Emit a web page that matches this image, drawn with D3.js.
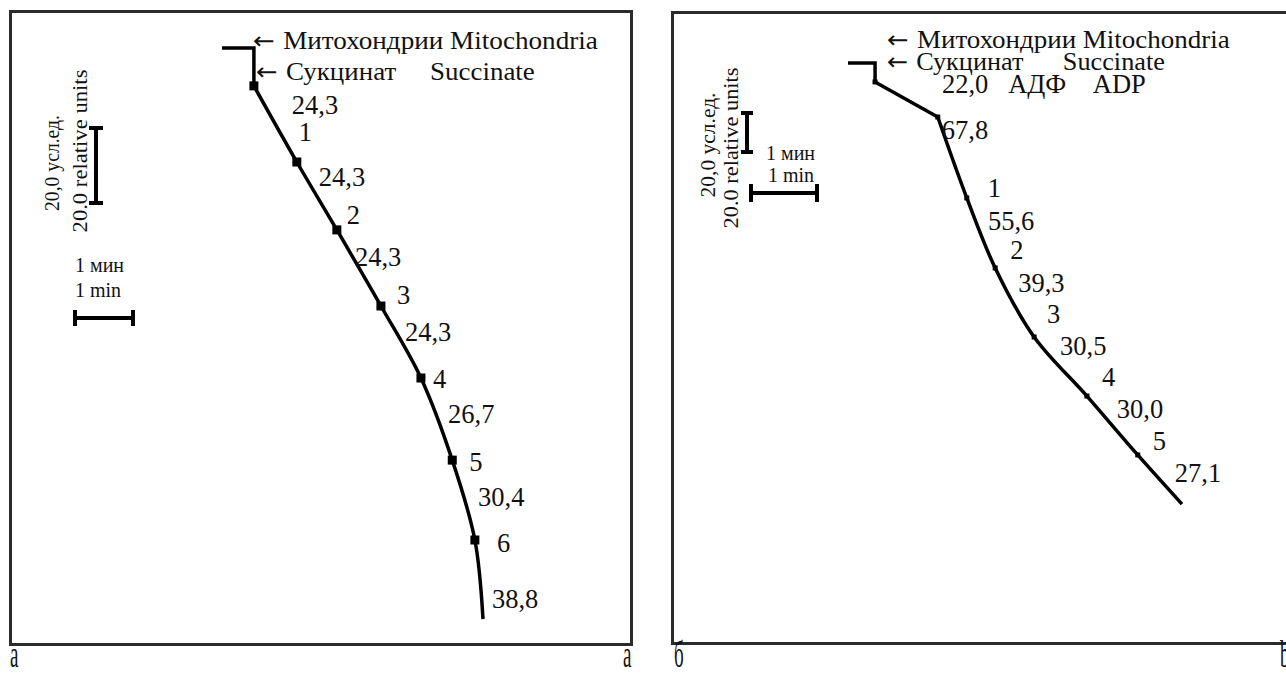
<!DOCTYPE html>
<html>
<head>
<meta charset="utf-8">
<script src="https://cdn.jsdelivr.net/npm/d3@7"></script>
<style>
  body { margin: 0; background: #fff; }
  svg { display: block; font-family: "Liberation Serif", "Times New Roman", serif; }
  text { fill: #111; white-space: pre; }
</style>
</head>
<body>
<svg id="fig" width="1286" height="675"></svg>
<script>
// panel a: oxygraph trace, time in min vs O2 uptake in relative units
const timeA    = [0, 0.55, 0.55, 1.29, 1.98, 2.74, 3.43, 3.97, 4.36, 4.50];
const o2A      = [0, 0, 10.1, 30.4, 48.5, 68.8, 88.0, 109.9, 131.2, 152.3];
const ratesA   = [24.3, 24.3, 24.3, 24.3, 26.7, 30.4, 38.8];
const minutesA = ["1", "2", "3", "4", "5", "6"];

// panel b (б): succinate + ADP
const timeB    = [0, 0.41, 0.41, 1.36, 1.80, 2.23, 2.82, 3.62, 4.39, 5.06];
const o2B      = [0, 0, 9.7, 27.7, 69.2, 105.1, 140.5, 170.8, 201.0, 226.2];
const ratesB   = [22.0, 67.8, 55.6, 39.3, 30.5, 30.0, 27.1];
const minutesB = ["1", "2", "3", "4", "5"];

const fmt = v => d3.format(".1f")(v).replace(".", ",");

const svg = d3.select("#fig");

// layout of each panel (px)
const panels = [
  { time: timeA, o2: o2A, rates: ratesA, minutes: minutesA,
    frame: [10.5, 11.5, 621, 633], x0: 222, pxMin: 58, y0: 48, pxUnit: 3.75,
    mark: 9, curveFrom: 2, minuteFrom: 3,
    rateOff: [[16.5,-19],[2,-19],[-4,-11],[4,-10],[11.5,-5],[14.5,-3],[13,19.5]],
    minuteOff: [[2,-30],[10,-15],[16,-11],[12,1],[17,2],[22,3]],
    firstRateSuffix: "",
    notes: [["Митохондрии Mitochondria", 253, 40, 345], ["Сукцинат     Succinate", 256, 71, 279]],
    vbar: [96, 128, 7], hbar: [75, 318, 8],
    vtext: [[52, 163, "20,0 усл.ед.", 96], [80, 151, "20.0 relative units", 163]],
    htext: [[75, 265, "1 мин"], [75, 290, "1 min"]] },
  { time: timeB, o2: o2B, rates: ratesB, minutes: minutesB,
    frame: [672.5, 12.5, 625, 631], x0: 848, pxMin: 66, y0: 63, pxUnit: 1.95,
    mark: 5, curveFrom: 3, minuteFrom: 4,
    rateOff: [[35.5,-15.5],[-10.5,-27.5],[7,-12],[3.5,-19.5],[-0.5,-20.5],[4.5,-16.5],[15,-6.5]],
    minuteOff: [[21,-10],[15,-18],[13,-23],[15,-19],[15,-14]],
    firstRateSuffix: "   АДФ    ADP",
    notes: [["Митохондрии Mitochondria", 887, 39, 343], ["Сукцинат      Succinate", 887, 61, 278]],
    vbar: [747, 113, 6], hbar: [751, 193, 9],
    vtext: [[708, 145, "20,0 усл.ед.", 105], [731, 148, "20.0 relative units", 161]],
    htext: [[766, 153, "1 мин"], [768, 175, "1 min"]] }
];

panels.forEach(p => {
  const x = d3.scaleLinear().domain([0, 1]).range([p.x0, p.x0 + p.pxMin]);
  const y = d3.scaleLinear().domain([0, 1]).range([p.y0, p.y0 + p.pxUnit]);
  const pts = p.time.map((t, i) => [x(t), y(p.o2[i])]);

  svg.append("rect")
    .attr("x", p.frame[0]).attr("y", p.frame[1])
    .attr("width", p.frame[2]).attr("height", p.frame[3])
    .attr("fill", "none").attr("stroke", "#2b2b2b").attr("stroke-width", 3);

  const g = svg.append("g");

  // step part (additions) then the trace itself
  g.append("path")
    .attr("d", d3.line()(pts.slice(0, p.curveFrom + 1)))
    .attr("fill", "none").attr("stroke", "#000").attr("stroke-width", 3.5);
  g.append("path")
    .attr("d", d3.line().curve(d3.curveCatmullRom.alpha(0.5))(pts.slice(p.curveFrom)))
    .attr("fill", "none").attr("stroke", "#000").attr("stroke-width", 3.5);

  // markers (one per minute), from index 2 to second-last
  const marks = pts.slice(2, pts.length - 1);
  g.selectAll(".mk").data(marks).enter().append("rect")
    .attr("x", d => d[0] - p.mark / 2).attr("y", d => d[1] - p.mark / 2)
    .attr("width", p.mark).attr("height", p.mark).attr("fill", "#000");

  // rate labels, placed next to each segment midpoint
  g.selectAll(".rt").data(p.rates).enter().append("text")
    .attr("x", (d, i) => (pts[2 + i][0] + pts[3 + i][0]) / 2 + p.rateOff[i][0])
    .attr("y", (d, i) => (pts[2 + i][1] + pts[3 + i][1]) / 2 + p.rateOff[i][1])
    .attr("dominant-baseline", "central")
    .attr("font-size", 26.5)
    .text((d, i) => fmt(d) + (i === 0 ? p.firstRateSuffix : ""));

  // minute numbers
  g.selectAll(".mn").data(p.minutes).enter().append("text")
    .attr("x", (d, i) => pts[p.minuteFrom + i][0] + p.minuteOff[i][0])
    .attr("y", (d, i) => pts[p.minuteFrom + i][1] + p.minuteOff[i][1])
    .attr("dominant-baseline", "central")
    .attr("font-size", 26.5)
    .text(d => d);

  // addition notes with arrows, stretched to the width seen in the figure
  p.notes.forEach(n => {
    const t = g.append("text")
      .attr("dominant-baseline", "central").attr("font-size", 25);
    t.append("tspan").attr("font-family", "DejaVu Sans").attr("font-size", 24).text("← ");
    t.append("tspan").text(n[0]);
    const sx = n[3] / t.node().getComputedTextLength();
    t.attr("transform", `translate(${n[1]},${n[2]}) scale(${sx},1)`);
  });

  // scale bars: 20 relative units and 1 min
  const vLen = y(20) - y(0), hLen = x(1) - x(0);
  const [vx, vy, vc] = p.vbar, [hx, hy, hc] = p.hbar;
  const bar = g.append("g").attr("stroke", "#000").attr("stroke-width", 4);
  bar.append("line").attr("x1", vx).attr("x2", vx).attr("y1", vy).attr("y2", vy + vLen);
  bar.append("line").attr("x1", vx - vc).attr("x2", vx + vc).attr("y1", vy).attr("y2", vy);
  bar.append("line").attr("x1", vx - vc).attr("x2", vx + vc).attr("y1", vy + vLen).attr("y2", vy + vLen);
  bar.append("line").attr("x1", hx).attr("x2", hx + hLen).attr("y1", hy).attr("y2", hy);
  bar.append("line").attr("x1", hx).attr("x2", hx).attr("y1", hy - hc).attr("y2", hy + hc);
  bar.append("line").attr("x1", hx + hLen).attr("x2", hx + hLen).attr("y1", hy - hc).attr("y2", hy + hc);

  p.vtext.forEach(t => {
    const el = g.append("text")
      .attr("text-anchor", "middle").attr("dominant-baseline", "central")
      .attr("font-size", 20).text(t[2]);
    const sx = t[3] / el.node().getComputedTextLength();
    el.attr("transform", `translate(${t[0]},${t[1]}) rotate(-90) scale(${sx},1)`);
  });
  p.htext.forEach(t => {
    g.append("text").attr("x", t[0]).attr("y", t[1])
      .attr("dominant-baseline", "central").attr("font-size", 20).text(t[2]);
  });
});

// panel letters under the frames
[["а", 10], ["а", 623], ["б", 674], ["b", 1280]].forEach(l => {
  svg.append("text").attr("transform", `translate(${l[1]},667) scale(0.5,1)`)
    .attr("font-size", 38).text(l[0]);
});
</script>
</body>
</html>
